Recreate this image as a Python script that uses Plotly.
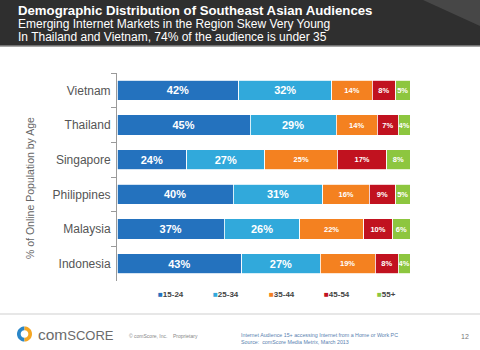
import math
import plotly.graph_objects as go

countries = ["Vietnam", "Thailand", "Singapore", "Philippines", "Malaysia", "Indonesia"]
age_groups = ["15-24", "25-34", "35-44", "45-54", "55+"]
v_15_24 = [42, 45, 24, 40, 37, 43]
v_25_34 = [32, 29, 27, 31, 26, 27]
v_35_44 = [14, 14, 25, 16, 22, 19]
v_45_54 = [8, 7, 17, 9, 10, 8]
v_55_plus = [5, 4, 8, 5, 6, 4]
series = [v_15_24, v_25_34, v_35_44, v_45_54, v_55_plus]
colors = ["#2472BE", "#31A9DB", "#F48120", "#C1121F", "#8DC63F"]
label_sizes = [11, 11, 7.5, 7.5, 7.5]

title = "Demographic Distribution of Southeast Asian Audiences"
subtitle1 = "Emerging Internet Markets in the Region Skew Very Young"
subtitle2 = "In Thailand and Vietnam, 74% of the audience is under 35"
ytitle = "% of Online Population by Age"

W, H = 480, 350
L, R, T, B = 117, 70, 73, 69
PW, PH = W - L - R, H - T - B


def px(x):
    return (x - L) / PW


def py(y):
    return (H - B - y) / PH


fig = go.Figure()
for name, vals, col, fs in zip(age_groups, series, colors, label_sizes):
    fig.add_trace(go.Bar(
        y=countries, x=vals, name=name, orientation="h",
        marker=dict(color=col, line=dict(color="white", width=0.8)),
        text=[f"{v}%" for v in vals], textposition="inside",
        insidetextanchor="middle", textangle=0, constraintext="none",
        textfont=dict(color="white", size=fs, family="Liberation Sans, Arial", weight="bold"),
        hoverinfo="skip", showlegend=False,
    ))

shapes = []
# header band
shapes.append(dict(type="rect", xref="paper", yref="paper", x0=px(0), x1=px(W), y0=py(46), y1=py(0),
                   fillcolor="#2f2f2f", line=dict(width=0), layer="below"))
shapes.append(dict(type="path", xref="paper", yref="paper",
                   path=f"M {px(423)} {py(0)} L {px(480)} {py(0)} L {px(480)} {py(26)} Z",
                   fillcolor="#474747", line=dict(width=0), layer="below"))
shapes.append(dict(type="line", xref="paper", yref="paper", x0=px(0), x1=px(W), y0=py(46), y1=py(46),
                   line=dict(color="#8a8a8a", width=1.5)))
# footer separator
shapes.append(dict(type="line", xref="paper", yref="paper", x0=px(0), x1=px(W), y0=py(314), y1=py(314),
                   line=dict(color="#cfcfcf", width=1.2)))


def ring_half(cx, cy, ro, ri, a0, a1, n=20):
    pts = []
    for i in range(n + 1):
        a = a0 + (a1 - a0) * i / n
        pts.append((cx + ro * math.cos(a), cy - ro * math.sin(a)))
    for i in range(n + 1):
        a = a1 + (a0 - a1) * i / n
        pts.append((cx + ri * math.cos(a), cy - ri * math.sin(a)))
    d = "M " + " L ".join(f"{px(x):.5f} {py(y):.5f}" for x, y in pts) + " Z"
    return d


shapes.append(dict(type="path", xref="paper", yref="paper",
                   path=ring_half(24.5, 334, 7.5, 3.8, math.pi / 2, 3 * math.pi / 2),
                   fillcolor="#2a86c8", line=dict(width=0)))
shapes.append(dict(type="path", xref="paper", yref="paper",
                   path=ring_half(24.5, 334, 7.5, 3.8, -math.pi / 2, math.pi / 2),
                   fillcolor="#f5a623", line=dict(width=0)))

ann = []
ann.append(dict(text=f"<b>{title}</b>", x=px(16), y=py(10.5), xref="paper", yref="paper",
                xanchor="left", yanchor="middle", showarrow=False,
                font=dict(color="white", size=13.2, family="Liberation Sans, Arial")))
ann.append(dict(text=subtitle1, x=px(16), y=py(23.5), xref="paper", yref="paper",
                xanchor="left", yanchor="middle", showarrow=False,
                font=dict(color="white", size=12, family="Liberation Sans, Arial")))
ann.append(dict(text=subtitle2, x=px(16), y=py(37), xref="paper", yref="paper",
                xanchor="left", yanchor="middle", showarrow=False,
                font=dict(color="white", size=12, family="Liberation Sans, Arial")))
ann.append(dict(text=ytitle, x=px(30), y=py(188), xref="paper", yref="paper", textangle=-90,
                xanchor="center", yanchor="middle", showarrow=False,
                font=dict(color="#666666", size=10.5, family="Liberation Sans, Arial")))
legend_x = [156, 211, 267, 322, 375]
for name, col, lx in zip(age_groups, colors, legend_x):
    ann.append(dict(text=f"<span style='color:{col}'>■</span><b>{name}</b>",
                    x=px(lx), y=py(294), xref="paper", yref="paper",
                    xanchor="left", yanchor="middle", showarrow=False,
                    font=dict(color="#444444", size=8, family="Liberation Sans, Arial")))
ann.append(dict(text="com<span style='font-size:13px'>SCORE</span>", x=px(36), y=py(334.5),
                xref="paper", yref="paper", xanchor="left", yanchor="middle", showarrow=False,
                font=dict(color="#6b6b6b", size=15.5, family="Liberation Sans, Arial")))
ann.append(dict(text="© comScore, Inc.    Proprietary", x=px(127), y=py(336),
                xref="paper", yref="paper", xanchor="left", yanchor="middle", showarrow=False,
                font=dict(color="#888888", size=5, family="Liberation Sans, Arial")))
ann.append(dict(text="Internet Audience 15+ accessing Internet from a Home or Work PC<br>Source:  comScore Media Metrix, March 2013",
                x=px(239), y=py(338), xref="paper", yref="paper", xanchor="left", yanchor="middle",
                align="left", showarrow=False,
                font=dict(color="#5a7fb0", size=5.3, family="Liberation Sans, Arial")))
ann.append(dict(text="12", x=px(465), y=py(336), xref="paper", yref="paper", xanchor="center",
                yanchor="middle", showarrow=False,
                font=dict(color="#777777", size=7, family="Liberation Sans, Arial")))

fig.update_layout(
    width=W, height=H, margin=dict(l=L, r=R, t=T, b=B, pad=0),
    barmode="stack", barnorm="percent", bargap=0.42,
    paper_bgcolor="white", plot_bgcolor="white",
    xaxis=dict(range=[0, 100], visible=False, fixedrange=True),
    yaxis=dict(type="category", autorange="reversed", showline=True, linecolor="#9a9a9a",
               linewidth=1, ticks="outside", ticklen=5, tickcolor="#9a9a9a", tickson="boundaries",
               showgrid=False, ticklabelstandoff=3,
               tickfont=dict(color="#555555", size=12, family="Liberation Sans, Arial")),
    shapes=shapes, annotations=ann, showlegend=False,
    font=dict(family="Liberation Sans, Arial"),
)

fig.write_html("out.html", config={"displayModeBar": False})
